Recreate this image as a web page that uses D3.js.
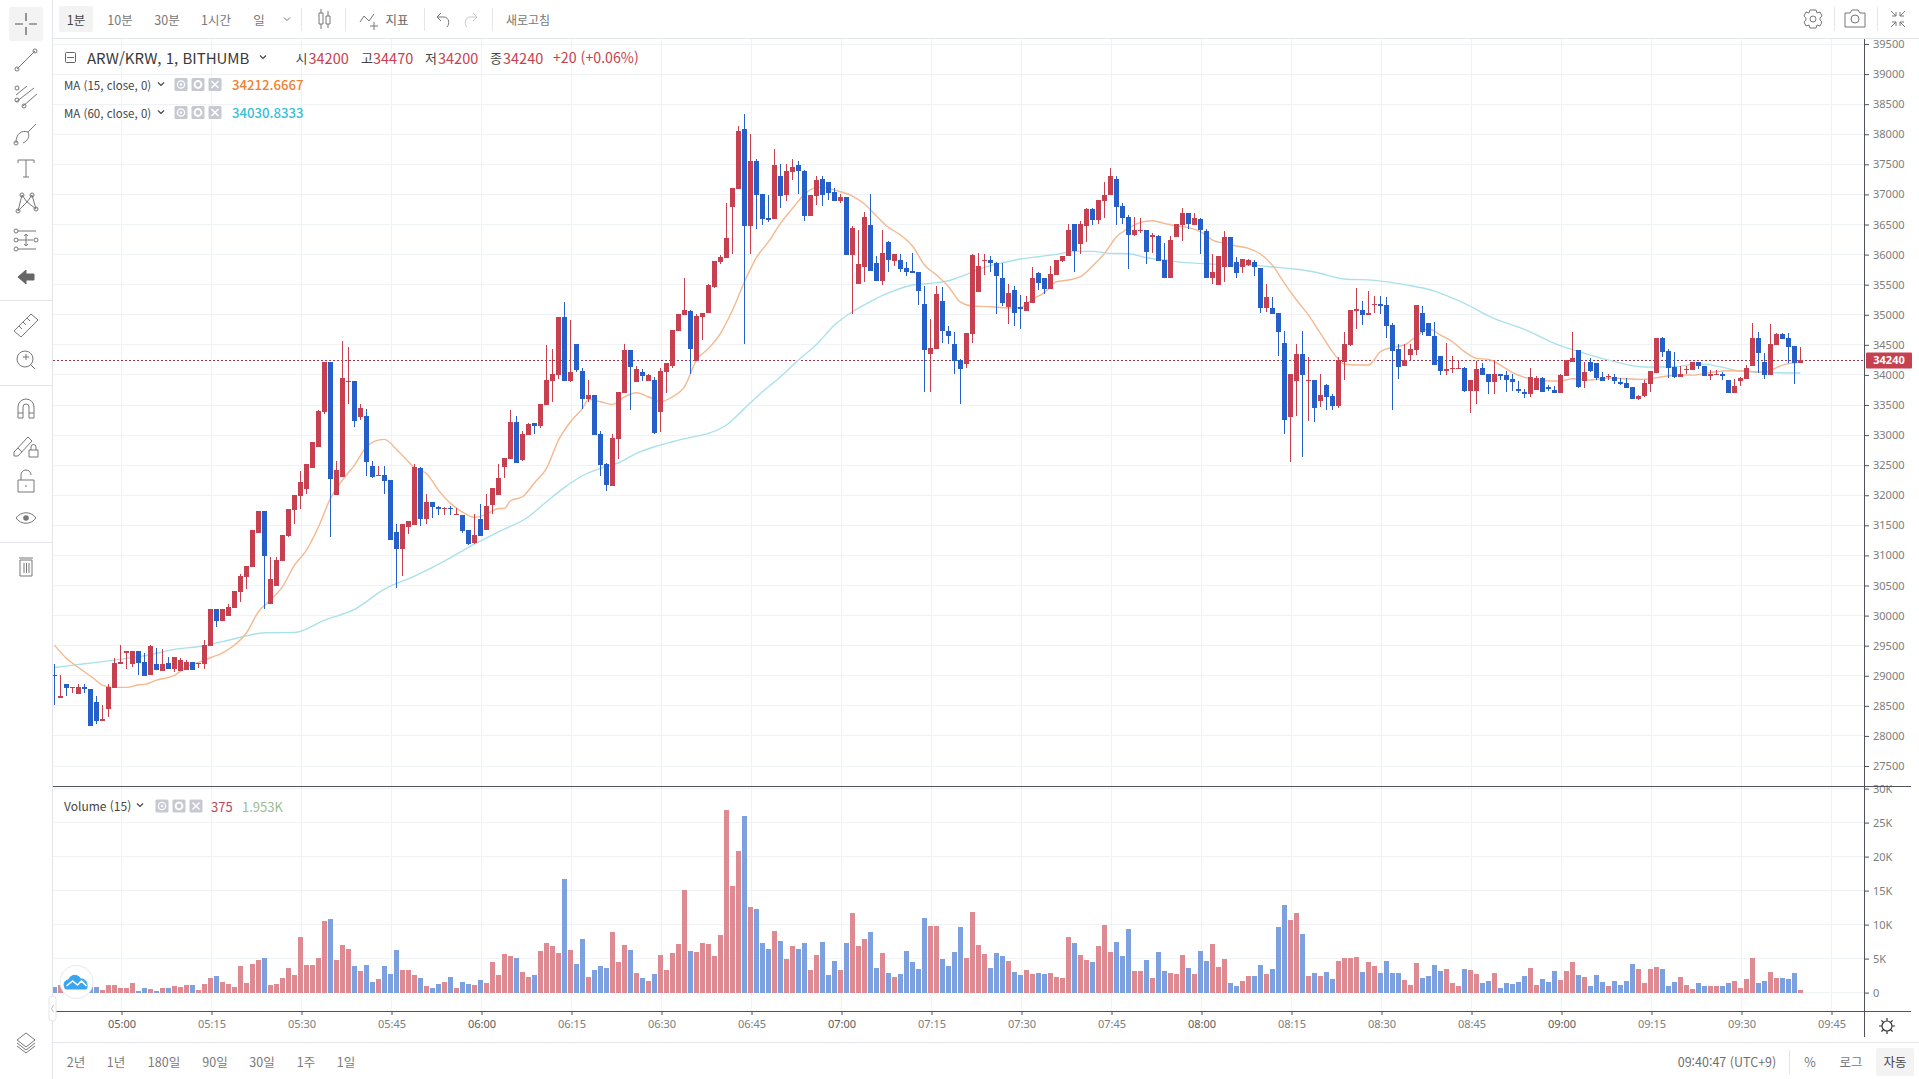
<!DOCTYPE html>
<html lang="ko">
<head>
<meta charset="utf-8">
<title>ARW/KRW, 1, BITHUMB</title>
<script src="https://cdnjs.cloudflare.com/ajax/libs/d3/7.8.5/d3.min.js"></script>
<style>
html,body{margin:0;padding:0;background:#fff;overflow:hidden}
svg{display:block}
text{font-family:"Noto Sans CJK KR","Noto Sans",sans-serif}
.axis text{font-family:"Noto Sans",sans-serif;font-size:11px;fill:#7d7d7d}
</style>
</head>
<body>
<svg id="chart" width="1919" height="1079"></svg>
<script>
// One-minute candles, oldest first: open, high, low, close.
const candlesA = [
[29020,29200,28510,29000],[28630,29010,28630,28660],[28860,28860,28660,28800],[28800,28810,28710,28810],[28700,28860,28700,28810],
[28810,28860,28710,28780],[28780,28780,28160,28160],[28560,28660,28190,28240],[28250,28510,28240,28280],[28450,28860,28310,28810],
[28800,29290,28800,29210],[29200,29510,29200,29230],[29380,29410,29110,29410],[29190,29410,29150,29410],[29410,29410,29010,29210],
[29230,29380,29000,29000],[29010,29510,29010,29500],[29190,29460,29100,29100],[29080,29440,29080,29190],[29210,29310,29120,29120],
[29120,29310,29060,29310],[29080,29290,29080,29260],[29100,29260,29100,29230],[29230,29230,29100,29100],[29200,29220,29130,29220],
[29200,29590,29120,29510],[29500,30110,29500,30110],[30110,30110,29810,29910],[29910,30110,29910,30110],[30000,30200,30000,30140],
[30130,30410,30130,30410],[30390,30690,30230,30660],[30640,30820,30440,30820],[30810,31420,30810,31420],[31380,31740,31380,31740],
[31740,31740,30110,30990],[30190,30970,30190,30610],[30490,30970,30490,30920],[30910,31340,30910,31340],[31320,31770,31310,31770],
[31750,32000,31520,32000],[31990,32400,31770,32220],[32100,32520,32020,32520],[32450,32880,32450,32880],[32800,33420,32800,33400],
[33380,34210,33350,34210],[34210,34210,31310,32270],[32000,32570,32000,32420],[32300,34560,32300,33950],[33880,34460,33520,33900],
[33900,33900,33130,33230],[33300,33520,33250,33450],[33320,33430,32320,32550],[32490,32570,32290,32300],[32320,32490,32320,32340],
[32340,32490,32020,32240],[32250,32250,31260,31260],[31390,31520,30460,31110],[31110,31520,30660,31520],[31470,31570,31360,31570],
[31510,32520,31510,32470],[32460,32470,31490,31600],[31600,32020,31520,31890],[31890,31890,31620,31800],[31800,31820,31670,31770],
[31770,31800,31670,31790],[31790,31820,31670,31770],[31670,31790,31670,31690],[31670,31670,31370,31400],[31420,31420,31170,31190],
[31200,31690,31190,31340],[31600,31860,31320,31330],[31420,32020,31420,31820],[31840,32120,31690,32120],[32000,32520,32000,32290],
[32470,32620,32290,32620],[32600,33420,32600,33220],[33220,33320,32530,32530],[32580,33070,32570,33020],[33000,33200,33000,33180],
[33200,33200,33020,33150],[33150,33520,33120,33520],[33500,34500,33500,33920],[33900,34430,33550,34010],[34000,34960,33930,34960],
[34960,35210,33900,33900],[33900,34910,33880,34050],[34510,34510,34050,34080],[34060,34110,33430,33600],[33600,33920,33550,33670],
[33670,33670,33000,33000],[33020,33070,32320,32500],[32520,32530,32070,32170],[32150,33020,32150,32950],[32930,33720,32600,33720],
[33700,34510,33700,34410],[34410,34410,33420,34130],[33880,34150,33880,34100],[34050,34100,33900,33980],[33900,34010,33900,34000]];
const candlesB = [
[33920,33960,33020,33030],[33380,34110,33050,34060],[34050,34200,33700,34200],[34150,34750,34110,34750],[34730,35010,34730,35010],
[35000,35610,35000,35080],[35060,35080,34010,34430],[34230,35010,34230,34980],[34960,35030,34580,35030],[35030,35510,35030,35490],
[35460,35890,35440,35890],[35880,35990,35840,35960],[35940,36860,35940,36280],[36790,37110,36010,37110],[37090,38140,37090,38050],
[38090,38340,34510,36470],[36470,38000,36010,37560],[37560,37590,36420,36990],[37010,37010,36490,36590],[36610,36990,36540,36570],
[36590,37750,36590,37490],[37310,37510,36770,36970],[36990,37510,36890,37390],[37370,37590,37240,37460],[37490,37560,37010,37390],
[37390,37410,36560,36640],[36640,36990,36640,36990],[36970,37310,36820,37240],[37260,37310,36810,36990],[37210,37210,36910,37020],
[37040,37110,36890,36890],[36890,37010,36860,36960],[36960,36960,35990,35990],[35990,36470,35010,36440],[35510,36410,35510,35840],
[35790,36710,35540,36620],[36490,37010,35730,35730],[35860,35980,35560,35560],[35560,36410,35490,36030],[36210,36230,35710,35910],
[35890,36010,35810,36010],[35910,36010,35710,35760],[35780,35880,35640,35710],[35730,36030,35690,35690],[35710,35710,35160,35390],
[35180,35480,33720,34410],[34350,34930,33720,34450],[34430,35480,34430,35340],[35230,35460,34530,34730],[34730,34810,34510,34650],
[34510,34710,34010,34230],[34250,34260,33520,34100],[34180,34700,34110,34700],[34680,36010,34530,35990],[35380,36030,35380,35810],
[35900,36010,35660,35910],[35910,35980,35710,35860],[35860,35880,35010,35640],[35610,35860,35140,35190],[35130,35510,34850,35360],
[35410,35480,34810,35030],[35130,35330,34760,35090],[35060,35310,35060,35210],[35190,35790,35190,35610],[35690,35710,35410,35530],
[35610,35610,35340,35430],[35430,35810,35430,35680],[35660,35910,35660,35910],[35890,35980,35880,35980],[35980,36510,35980,36410],
[36510,36510,35710,36060],[36180,36560,36010,36510],[36480,36770,36210,36760],[36760,36770,36490,36570],[36570,36910,36510,36910],
[36890,37210,36610,36990],[36990,37440,36990,37310],[37260,37310,36490,36790],[36810,36860,36510,36610],[36620,36660,35760,36330],
[36330,36620,36310,36410],[36390,36610,36360,36410],[36410,36410,35840,36040],[36300,36360,36030,36330],[36310,36330,35890,35890],
[35910,36190,35610,35610],[35610,36310,35610,36240],[36290,36510,36290,36510],[36490,36770,36230,36690],[36690,36690,36430,36510],
[36490,36690,36490,36610],[36590,36610,36010,36410],[36390,36430,35610,35610],[35610,36010,35510,35710],[35490,35980,35490,35980],
[35790,36390,35540,36290],[36290,36290,35790,35790],[35880,35960,35610,35690],[35790,35930,35690,35930],[35830,35930,35810,35910]];
const candlesC = [
[35880,35910,35640,35790],[35780,35780,35030,35110],[35110,35510,35050,35290],[35110,35290,35010,35010],[35030,35030,34310,34710],
[34530,34730,33020,33250],[33300,34010,32550,34010],[33900,34510,33320,34350],[34350,34730,32640,34000],[33900,34300,33230,33920],
[33920,33920,33220,33450],[33570,34010,33470,33670],[33830,33850,33420,33630],[33650,33680,33420,33480],[33480,34300,33450,34250],
[34210,34710,33920,34510],[34500,35080,34480,35080],[35060,35440,34760,35090],[35080,35230,34830,35000],[35000,35390,35000,35030],
[35160,35310,35030,35180],[35180,35310,35010,35150],[35160,35290,34610,34810],[34830,34860,33420,34400],[34430,34510,33930,34130],
[34150,34510,34150,34250],[34330,34510,34230,34430],[34410,35160,34330,35160],[35030,35150,34660,34710],[34860,34860,34650,34650],
[34650,34880,34160,34160],[34310,34310,34000,34060],[34060,34530,34000,34100],[34100,34310,34030,34110],[34100,34250,34100,34110],
[34110,34130,33720,33730],[33730,33920,33370,33920],[33730,34230,33520,34100],[34110,34200,34000,34000],[34010,34010,33680,33880],
[33880,34240,33680,34010],[34010,34010,33920,33980],[34000,34060,33720,33920],[33930,34010,33730,33880],[33770,33900,33700,33730],
[33720,33770,33620,33680],[33680,34110,33630,33970],[33750,33980,33750,33950],[33950,33970,33720,33720],[33800,33830,33730,33770],
[33750,33820,33700,33700],[33700,34010,33700,34000],[33980,34250,33980,34250],[34210,34710,34210,34280],[34410,34410,33780,33800],
[33900,34210,33780,34050],[34210,34280,34050,34060],[34200,34200,33920,33950],[33970,34050,33900,33900],[33970,34010,33920,33980],
[33970,34010,33850,33900],[33880,33950,33830,33850],[33870,33950,33780,33780],[33800,33800,33600,33600],[33600,33670,33580,33650],
[33650,33920,33630,33870],[33850,34060,33720,34060],[34030,34610,34030,34610],[34610,34630,34300,34380],[34400,34430,33950,34110],
[34130,34380,33950,33970],[33970,34150,33970,34010],[34090,34150,34010,34100],[34080,34210,34080,34210],[34210,34210,34100,34150],
[34150,34150,33980,33980],[33980,34080,33910,34010],[34000,34080,34000,34010],[34010,34050,33910,33980],[33910,33910,33700,33700],
[33700,33930,33700,33820],[33900,33960,33820,33950],[33930,34160,33930,34110],[34150,34860,34150,34610],[34610,34710,34030,34360],
[34210,34360,33930,34000],[34000,34850,34000,34510],[34500,34700,34500,34680],[34680,34700,34600,34600],[34610,34700,34190,34460],
[34480,34480,33850,34200],[34200,34470,34200,34240]];
const candles = [...candlesA, ...candlesB, ...candlesC];

// Traded volume per minute, same order as the candles.
const volumes = [
830,1130,800,700,1000,900,830,830,390,1130,1130,690,690,1420,250,690,540,250,690,690,980,830,1130,1130,390,1270,2160,2450,1570,1270,
830,3920,1420,4210,4800,5100,1130,1270,2160,3630,2600,8180,4070,4070,5100,10540,10830,4800,7010,6420,3920,3190,4070,1570,2010,3920,2740,6270,3330,3330,
2600,2160,980,690,1270,1570,2300,690,1570,1270,1130,1860,1420,4510,2600,5680,5390,5100,3040,2300,2600,6130,7300,6860,5830,16710,6270,4210,7890,2300,
3330,3920,3630,8920,4510,7010,6270,2890,2160,1720,2740,5540,3330,5830,7150,15090,6130,5980,7300,7150,5390,8480,26850,15680,20830,25970,12590,12300,7300,6420,
9070,7600,4950,6860,6420,7300,3330,5540,7450,2600,4660,3330,7300,11710,6860,7890,8920,3630,5830,2890,2300,2740,6130,4510,3480,10980,9800,9800,4950,3920,
5980,9650,5100,11860,7010,5680,3630,5830,5390,4660,3040,2600,3330,2740,2890,2740,2890,2300,2160,8180,7300,5540,4800,4510,6860,9950,5980,7450,5390,9360,
3190,3190,4800,2160,5980,3190,2890,2740,5540,3630,2740,6130,4660,7150,3770,4950,1420,980,1720,2450,2450,4070,2740,3480,9650,12890,10680,11710,8620,2450,
2890,2450,3040,2010,4660,5100,5100,5240,3040,4510,3920,2890,4660,2890,2890,1860,1130,4360,2160,2450,4070,3190,3480,1420,980,3480,3330,2740,1420,1720,
2890,690,1420,1270,1570,2450,3630,1130,2010,1570,3190,1860,3190,4510,2600,2300,980,2600,1570,980,1720,1130,1720,4210,3480,1420,3480,3770,3480,980,
1570,2300,1130,540,1420,980,980,980,980,1420,1720,690,2010,5100,1420,1720,3040,2160,2160,2010,2890,375];

// 15-minute moving average: minutes after the first candle, price.
const ma15 = [
[0,29510],[2,29288],[4,29138],[5,29066],[7,28917],[8,28839],[10,28806],[12,28806],[14,28850],[15,28856],[17,28928],[19,28972],[20,29006],[22,29150],[24,29222],[26,29299],[28,29382],
[30,29510],[32,29715],[34,30064],[36,30258],[38,30480],[40,30840],[42,31089],[44,31477],[46,31948],[48,32253],[50,32502],[52,32807],[54,32917],[55,32929],[57,32762],[59,32557],[60,32458],
[62,32363],[64,32086],[66,31865],[68,31720],[70,31632],[72,31681],[74,31781],[75,31781],[76,31909],[78,31975],[80,32208],[82,32446],[84,32917],[86,33222],[88,33444],[89,33593],[91,33554],
[93,33510],[95,33637],[97,33704],[99,33637],[101,33554],[103,33637],[105,33804],[107,34247],[109,34441],[111,34690],[113,35078],[115,35549],[117,35954],[119,36214],[121,36519],[123,36768],
[125,37001],[127,37117],[129,37101],[131,37045],[133,36973],[135,36840],[137,36640],[139,36453],[141,36325],[143,36142],[145,35826],[147,35660],[149,35466],[151,35211],[153,35145],[156,35134],
[159,35112],[161,35123],[163,35256],[165,35372],[167,35549],[169,35577],[171,35632],[173,35810],[175,36020],[177,36297],[179,36436],[181,36536],[183,36563],[185,36519],[187,36475],[189,36447],
[191,36380],[193,36242],[195,36186],[197,36142],[199,36103],[201,36009],[203,35821],[205,35522],[207,35245],[209,34995],[211,34690],[213,34386],[215,34181],[217,34164],[219,34164],[221,34386],
[223,34458],[225,34497],[227,34646],[229,34768],[231,34663],[233,34552],[235,34386],[237,34275],[239,34258],[241,34164],[243,34037],[245,33959],[248,33904],[251,33898],[253,33937],[256,33915],
[259,33948],[262,33937],[265,33926],[268,33970],[271,33998],[273,33997],[276,34042],[279,34070],[282,34064],[285,34042],[288,34164],[291,34212.6667]];

// 60-minute moving average: minutes after the first candle, price.
const ma60 = [
[0,29138],[5,29199],[10,29260],[15,29332],[20,29438],[25,29499],[30,29615],[35,29715],[40,29720],[45,29925],[50,30103],[55,30441],[60,30657],[65,30906],[69,31133],[74,31390],[79,31643],[82,31892],
[85,32130],[88,32324],[91,32446],[94,32540],[97,32695],[100,32806],[103,32889],[106,32961],[109,33028],[112,33167],[115,33444],[118,33721],[121,33970],[124,34247],[127,34507],[130,34829],
[133,35050],[136,35217],[137,35272],[140,35400],[143,35494],[146,35522],[149,35566],[152,35671],[155,35788],[158,35865],[161,35926],[164,35965],[167,36004],[170,36053],[173,36053],[176,36020],
[179,36015],[182,35948],[185,35910],[188,35871],[191,35854],[194,35837],[197,35826],[200,35821],[203,35793],[206,35768],[210,35710],[215,35594],[220,35572],[225,35500],[230,35394],[235,35189],
[240,34934],[245,34757],[250,34524],[255,34358],[260,34220],[265,34131],[270,34136],[274,34181],[275,34180],[278,34125],[281,34064],[285,34042],[291,34030.8333]];

const priceTicks = d3.range(27500, 40000, 500);
const volumeTicks = [0, 5000, 10000, 15000, 20000, 25000, 30000];
const timeLabels = ["05:00","05:15","05:30","05:45","06:00","06:15","06:30","06:45","07:00","07:15","07:30","07:45","08:00","08:15","08:30","08:45","09:00","09:15","09:30","09:45"];
const lastPrice = 34240;

const ohlcLegend = [["시","34200"],["고","34470"],["저","34200"],["종","34240"]];
const ohlcLegendX = [[295.5,308.5],[361,373],[425,438],[490,503]];
const intervalButtons = [["1분",76],["10분",120],["30분",167],["1시간",216],["일",259]];
const rangeButtons = [["2년",76],["1년",116],["180일",164],["90일",215],["30일",262],["1주",306],["1일",346]];

const UP = "#c7404f", DOWN = "#2560c8", UP_VOL = "#de8a93", DOWN_VOL = "#7da0de", GRID = "#f0f3f6", AXIS = "#50535e";
const paneRight = 1864;

const parseClock = d3.timeParse("%H:%M");
const t0 = parseClock("04:49");
const timeAt = i => d3.timeMinute.offset(t0, i);

const x = d3.scaleTime().domain([t0, timeAt(291)]).range([54.5, 1800.5]);
const xTicks = x.copy().range([55.5, 1801.5]);
const yPrice = d3.scaleLinear().domain([27500, 39500]).range([766, 44]);
const yVolume = d3.scaleLinear().domain([0, 30000]).range([992.6, 788.6]);

const svg = d3.select("#chart");
const tickDates = timeLabels.map(parseClock);

// Grid
const grid = svg.append("g").attr("stroke", GRID).attr("shape-rendering", "crispEdges");
grid.selectAll(".gp").data(priceTicks).join("line").attr("x1", 53).attr("x2", paneRight)
  .attr("y1", d => yPrice(d)).attr("y2", d => yPrice(d));
grid.selectAll(".gv").data(volumeTicks).join("line").attr("x1", 53).attr("x2", paneRight)
  .attr("y1", d => yVolume(d)).attr("y2", d => yVolume(d));
grid.selectAll(".gt").data(tickDates).join("line").attr("y1", 39).attr("y2", 1011)
  .attr("x1", d => xTicks(d)).attr("x2", d => xTicks(d));

// Last price line
svg.append("line").attr("x1", 53).attr("x2", paneRight).attr("y1", Math.round(yPrice(lastPrice)) + .5).attr("y2", Math.round(yPrice(lastPrice)) + .5)
  .attr("stroke", "#9a3645").attr("stroke-dasharray", "2,2");

// Moving averages
const maLine = d3.line().x(d => x(timeAt(d[0]))).y(d => yPrice(d[1])).curve(d3.curveMonotoneX);
svg.append("path").attr("d", maLine(ma60)).attr("fill", "none").attr("stroke", "#a9e1ea").attr("stroke-width", 1.4);
svg.append("path").attr("d", maLine(ma15)).attr("fill", "none").attr("stroke", "#f5b88f").attr("stroke-width", 1.4);

// Candles
const candleG = svg.append("g").attr("shape-rendering", "crispEdges");
const isUp = d => d[3] >= d[0];
const col = (d, i) => Math.floor(x(timeAt(i)));
candleG.selectAll(".wick").data(candles).join("rect")
  .attr("x", col).attr("width", 1)
  .attr("y", d => yPrice(d[1])).attr("height", d => Math.max(1, yPrice(d[2]) - yPrice(d[1])))
  .attr("fill", d => isUp(d) ? UP : DOWN);
candleG.selectAll(".body").data(candles).join("rect")
  .attr("x", (d, i) => col(d, i) - 2).attr("width", 5)
  .attr("y", d => yPrice(Math.max(d[0], d[3]))).attr("height", d => Math.max(1, Math.abs(yPrice(d[0]) - yPrice(d[3]))))
  .attr("fill", d => isUp(d) ? UP : DOWN);

// Volume bars
svg.append("g").attr("shape-rendering", "crispEdges").selectAll("rect").data(volumes).join("rect")
  .attr("x", (d, i) => col(d, i) - 2).attr("width", 5)
  .attr("y", d => yVolume(d)).attr("height", d => yVolume(0) - yVolume(d))
  .attr("fill", (d, i) => isUp(candles[i]) ? UP_VOL : DOWN_VOL);

// Axes
const formatVolume = d => d === 0 ? "0" : (d / 1000) + "K";
const priceAxis = svg.append("g").attr("class", "axis").attr("transform", `translate(${paneRight},0)`)
  .call(d3.axisRight(yPrice).tickValues(priceTicks).tickFormat(d3.format("d")).tickSize(5).tickPadding(4));
const volumeAxis = svg.append("g").attr("class", "axis").attr("transform", `translate(${paneRight},0)`)
  .call(d3.axisRight(yVolume).tickValues(volumeTicks).tickFormat(formatVolume).tickSize(5).tickPadding(4));
const timeAxis = svg.append("g").attr("class", "axis").attr("transform", "translate(0,1011)")
  .call(d3.axisBottom(xTicks).tickValues(tickDates).tickFormat(d3.timeFormat("%H:%M")).tickSize(4).tickPadding(5));
timeAxis.selectAll("text").style("fill", d => d.getMinutes() === 0 ? "#5c5c5c" : "#7d7d7d");
[priceAxis, volumeAxis, timeAxis].forEach(a => {
  a.select(".domain").remove();
  a.selectAll("line").attr("stroke", AXIS);
});
const frame = svg.append("g").attr("stroke", AXIS).attr("shape-rendering", "crispEdges");
frame.append("line").attr("x1", paneRight + .5).attr("x2", paneRight + .5).attr("y1", 39).attr("y2", 1037).attr("stroke-width", 1);
frame.append("line").attr("x1", 53).attr("x2", 1911).attr("y1", 786.5).attr("y2", 786.5);
frame.append("line").attr("x1", 53).attr("x2", 1911).attr("y1", 1011.5).attr("y2", 1011.5);

// Last price tag
svg.append("rect").attr("x", 1866).attr("y", yPrice(lastPrice) - 8).attr("width", 46).attr("height", 16).attr("rx", 1).attr("fill", UP);
svg.append("text").attr("x", 1889).attr("y", yPrice(lastPrice) + 4).attr("text-anchor", "middle").attr("fill", "#fff")
  .attr("font-size", 11).attr("font-weight", 700).style("font-family", '"Noto Sans",sans-serif').text(lastPrice);

// Toolbars and their outlines
const ui = svg.append("g");
const bar = (x1, y1, x2, y2, c = "#e3e5ea", w = 1) => ui.append("line").attr("x1", x1).attr("y1", y1).attr("x2", x2).attr("y2", y2)
  .attr("stroke", c).attr("stroke-width", w).attr("shape-rendering", "crispEdges");
bar(52.5, 0, 52.5, 1079, "#e3e5ea");
bar(53, 38.5, 1919, 38.5, "#e3e5ea", 1.5);
bar(53, 1042.5, 1919, 1042.5, "#e3e5ea", 1.5);
[300.5, 385.5, 542.5].forEach(y => bar(0, y, 52, y));
[[301, 8, 31], [345, 8, 31], [424, 8, 31], [492, 8, 31], [1834, 7, 31], [1877, 7, 31], [1789, 1050, 1074]].forEach(s => bar(s[0] + .5, s[1], s[0] + .5, s[2]));

const label = (txt, px, py, size, fill, anchor = "middle", weight = 400) => ui.append("text").attr("x", px).attr("y", py)
  .attr("font-size", size).attr("fill", fill).attr("text-anchor", anchor).attr("font-weight", weight).attr("dominant-baseline", "central").text(txt);

ui.append("rect").attr("x", 59).attr("y", 6).attr("width", 34).attr("height", 26).attr("rx", 2).attr("fill", "#f3f3f3");
intervalButtons.forEach((b, i) => label(b[0], b[1], 19, 12.5, i === 0 ? "#444" : "#7a7a7a"));
label("지표", 397, 19, 12.5, "#666");
label("새로고침", 528, 19, 12, "#777");
rangeButtons.forEach(b => label(b[0], b[1], 1061, 12.5, "#7a7a7a"));
label("09:40:47 (UTC+9)", 1727, 1061, 12.5, "#6f6f6f");
label("%", 1810, 1061, 12.5, "#777");
label("로그", 1851, 1061, 12.5, "#777");
ui.append("rect").attr("x", 1876).attr("y", 1048).attr("width", 38).attr("height", 28).attr("rx", 2).attr("fill", "#f3f3f3");
label("자동", 1895, 1061, 12.5, "#444");

// Legends
const legendChevron = (px, py) => ui.append("path").attr("d", `M${px - 3},${py - 1.5}L${px},${py + 1.5}L${px + 3},${py - 1.5}`).attr("fill", "none").attr("stroke", "#444").attr("stroke-width", 1.2);
const legendButtons = (px, py) => {
  [0, 1, 2].forEach(k => {
    const cx = px + k * 17;
    ui.append("rect").attr("x", cx - 6.5).attr("y", py - 6.5).attr("width", 13).attr("height", 13).attr("rx", 1.5).attr("fill", "#c6c9d2");
    if (k === 0) {
      ui.append("circle").attr("cx", cx).attr("cy", py).attr("r", 3.6).attr("fill", "none").attr("stroke", "#fff").attr("stroke-width", 1.3);
      ui.append("circle").attr("cx", cx).attr("cy", py).attr("r", 1.2).attr("fill", "#fff");
    } else if (k === 1) {
      ui.append("circle").attr("cx", cx).attr("cy", py).attr("r", 3.4).attr("fill", "none").attr("stroke", "#fff").attr("stroke-width", 2);
    } else {
      ui.append("path").attr("d", `M${cx - 3.5},${py - 3.5}L${cx + 3.5},${py + 3.5}M${cx + 3.5},${py - 3.5}L${cx - 3.5},${py + 3.5}`).attr("stroke", "#fff").attr("stroke-width", 1.5);
    }
  });
};
ui.append("rect").attr("x", 65.5).attr("y", 52.5).attr("width", 10).attr("height", 10).attr("rx", 1).attr("fill", "none").attr("stroke", "#666");
ui.append("line").attr("x1", 67).attr("x2", 74).attr("y1", 57.5).attr("y2", 57.5).attr("stroke", "#666");
label("ARW/KRW, 1, BITHUMB", 87, 57, 15, "#3a3a3a", "start");
legendChevron(263, 57);
ohlcLegend.forEach((e, i) => {
  label(e[0], ohlcLegendX[i][0], 57, 13, "#444", "start");
  label(e[1], ohlcLegendX[i][1], 57, 14.5, UP, "start");
});
label("+20 (+0.06%)", 553, 57, 14.2, UP, "start");
label("MA (15, close, 0)", 64, 84.5, 11.5, "#444", "start");
legendChevron(161, 84);
legendButtons(181, 84.5);
label("34212.6667", 232, 84.5, 13.2, "#f08030", "start", 500);
label("MA (60, close, 0)", 64, 112.5, 11.5, "#444", "start");
legendChevron(161, 112);
legendButtons(181, 112.5);
label("34030.8333", 232, 112.5, 13.2, "#36c0d8", "start", 500);
label("Volume (15)", 64, 805.5, 12, "#444", "start");
legendChevron(140, 805);
legendButtons(162, 806);
label("375", 211, 806, 13, "#c0465a", "start");
label("1.953K", 242, 806, 13, "#9bbd90", "start");

// Tool icons, each drawn around its own centre
const icon = (cx, cy, d, opts = {}) => ui.append("path").attr("transform", `translate(${cx},${cy})`).attr("d", d)
  .attr("fill", opts.fill || "none").attr("stroke", opts.stroke || "#777").attr("stroke-width", opts.w || 1);
ui.append("rect").attr("x", 9).attr("y", 7).attr("width", 34).attr("height", 34).attr("rx", 3).attr("fill", "#f3f3f3");
icon(26, 24, "M-11,0H-3M3,0H11M0,-11V-3M0,3V11", { stroke: "#555", w: 1.2 });
icon(26, 60, "M-9,9L9,-9M-11,9a2,2 0 1,0 4,0a2,2 0 1,0 -4,0M7,-9a2,2 0 1,0 4,0a2,2 0 1,0 -4,0");
icon(26, 97, "M-10,-2L1,-11M-10,5L8,-9M-3,9L11,-3M-11,3a2,2 0 1,0 4,0a2,2 0 1,0 -4,0M-4,9a2,2 0 1,0 4,0a2,2 0 1,0 -4,0M-11,-9a2,2 0 1,0 4,0a2,2 0 1,0 -4,0");
icon(26, 133, "M-10,10C-10,0 -4,-3 2,-1C4,3 2,8 -3,10M2,-1L10,-9M-12,10a2,2 0 1,0 4,0a2,2 0 1,0 -4,0");
icon(26, 168, "M-8,-8H8M-8,-8V-5M8,-8V-5M0,-8V9M-3,9H3");
icon(26, 203, "M-8,8L-4,-8L1,-1L6,-8L10,6M-8,8L1,-1L10,6M-10,8a2,2 0 1,0 4,0a2,2 0 1,0 -4,0M-6,-8a2,2 0 1,0 4,0a2,2 0 1,0 -4,0M4,-8a2,2 0 1,0 4,0a2,2 0 1,0 -4,0M8,6a2,2 0 1,0 4,0a2,2 0 1,0 -4,0");
icon(26, 240, "M-8,-9H10M-8,0H7M-8,9H10M0,-6V6M-2,-4L0,-6L2,-4M-2,4L0,6L2,4M-12,-9a2,2 0 1,0 4,0a2,2 0 1,0 -4,0M-12,0a2,2 0 1,0 4,0a2,2 0 1,0 -4,0M-12,9a2,2 0 1,0 4,0a2,2 0 1,0 -4,0M8,0a2,2 0 1,0 4,0a2,2 0 1,0 -4,0");
icon(26, 277, "M-8,0L0,-7V-3H8V3H0V7Z", { fill: "#666", stroke: "#666" });
icon(26, 325, "M-12,6L5,-11L12,-5L-5,12ZM-7,1L-4,4M-3,-3L0,0M1,-7L4,-4");
icon(26, 360, "M4,4L9,9M-3,-3H3M0,-6V0", {});
ui.append("circle").attr("cx", 25).attr("cy", 359).attr("r", 8).attr("fill", "none").attr("stroke", "#777");
icon(26, 409, "M-8,9V-2A8,8 0 0 1 8,-2V9H3V-2A3,3 0 0 0 -3,-2V9ZM-8,4H-3M3,4H8");
icon(24, 445, "M-10,7L4,-8L8,-4L-6,11L-10,11ZM-6,3L-2,7M5,5H14V12H5ZM7,5V2A2.5,2.5 0 0 1 12,2V5");
icon(26, 482, "M-8,-2H8V10H-8ZM-5,-2V-7A5,5 0 0 1 5,-7M0,3V5");
icon(26, 518, "M-10,0C-5,-7 5,-7 10,0C5,7 -5,7 -10,0Z");
ui.append("circle").attr("cx", 26).attr("cy", 518).attr("r", 2.8).attr("fill", "#777");
icon(26, 567, "M-6,-7H6V9H-6ZM-7,-9H7M-2,-4V6M0.5,-4V6M3,-4V6");
icon(26, 1040, "M0,-7L9,0L0,7L-9,0ZM-9,3L0,10L9,3M-9,6L0,13L9,6");
icon(1813, 19, "M-3,-9H3L4,-6L7,-7L9,-3L7,-1V1L9,3L7,7L4,6L3,9H-3L-4,6L-7,7L-9,3L-7,1V-1L-9,-3L-7,-7L-4,-6Z");
ui.append("circle").attr("cx", 1813).attr("cy", 19).attr("r", 3).attr("fill", "none").attr("stroke", "#777");
icon(1855, 19, "M-10,-6H-5L-3,-9H3L5,-6H10V8H-10Z");
ui.append("circle").attr("cx", 1855).attr("cy", 19).attr("r", 4).attr("fill", "none").attr("stroke", "#777");
icon(1898, 19, "M-7,-8L-2,-3M-2,-7V-3H-6M7,-8L2,-3M2,-7V-3H6M-7,8L-2,3M-2,7V3H-6M7,8L2,3M2,7V3H6");
icon(1887, 1026, "M-5,0a5,5 0 1,0 10,0a5,5 0 1,0 -10,0M-8,0H-5M5,0H8M0,-8V-5M0,5V8M-5.6,-5.6L-3.5,-3.5M3.5,3.5L5.6,5.6M5.6,-5.6L3.5,-3.5M-3.5,3.5L-5.6,5.6", { stroke: "#333", w: 1.2 });
icon(324, 19, "M-5,-6H-1V5H-5ZM-3,-10V-6M-3,5V10M2,-3H6V5H2ZM4,-8V-3M4,5V9");
icon(367, 20, "M-7,2L-3,-4L2,1L7,-6M7,10V2M3,6H11");
icon(443, 20, "M-6,-3L-2,-7M-6,-3L-2,1M-6,-3H1C6,-3 7,4 4,7");
icon(471, 20, "M6,-3L2,-7M6,-3L2,1M6,-3H-1C-6,-3 -7,4 -4,7", { stroke: "#c8c8c8" });
icon(287, 19, "M-3,-1.5L0,1.5L3,-1.5");

// Logo badge and panel handle
ui.append("rect").attr("x", 49).attr("y", 996).attr("width", 7).attr("height", 25).attr("rx", 3).attr("fill", "#fff").attr("stroke", "#e3e5ea");
ui.append("path").attr("d", "M53.5,1005L51.5,1008.5L53.5,1012").attr("fill", "none").attr("stroke", "#bbb");
ui.append("circle").attr("cx", 76.5).attr("cy", 982).attr("r", 16.5).attr("fill", "#fff").attr("stroke", "#e6e8ec");
icon(76.5, 982, "M-11,7C-14,3 -12,-2 -8,-2C-6,-8 2,-8 4,-3C9,-4 12,2 10,7Z", { fill: "#3aa5ee", stroke: "#3aa5ee" });
icon(76.5, 982, "M-10,4L-4,-1L1,3L5,-1L10,4", { stroke: "#fff", w: 1.6 });
</script>
</body>
</html>
